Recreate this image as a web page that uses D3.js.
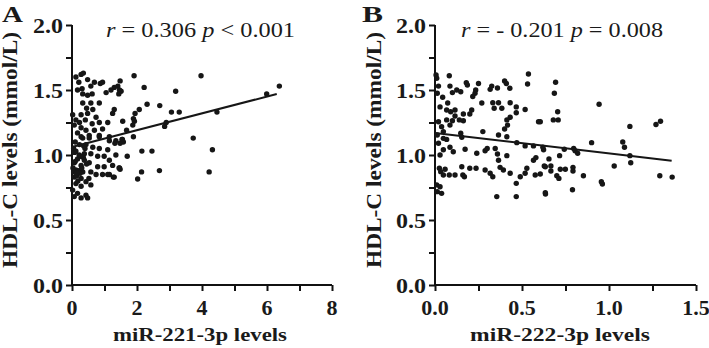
<!DOCTYPE html>
<html><head><meta charset="utf-8">
<script src="https://cdn.jsdelivr.net/npm/d3@7"></script>
<style>
html,body{margin:0;padding:0;background:#fff;}
svg{display:block;}
text{font-family:"Liberation Serif","Times New Roman",Tinos,serif;}
</style></head>
<body><svg id="c" width="709" height="348"></svg>
<script>
// ---------- data ----------
const aX = [1.91,2.22,3.19,3.97,5.99,6.38,4.46,3.73,4.32,4.22,2.85,2.90,2.70,3.06,3.30,2.31,2.07,1.94,1.89,1.92,1.87,1.56,1.68,1.89,1.58,1.48,2.15,2.46,1.70,1.48,2.14,2.69,2.02,1.51,1.48,
  0.12,0.28,0.35,0.21,0.48,0.69,0.87,0.94,0.31,0.17,0.33,0.58,0.62,0.48,1.05,1.20,1.30,1.41,1.46,1.44,0.33,0.58,0.84,0.45,0.64,1.30,1.25,0.02,0.28,0.48,0.74,0.12,0.23,0.41,0.62,0.84,1.10,0.07,0.28,0.43,0.69,0.94,0.17,0.53,0.84,1.15,0.33,
  0.28,0.53,0.84,1.15,1.35,1.54,0.23,0.43,0.64,0.84,1.10,0.12,0.38,0.58,0.79,0.99,1.35,0.17,0.38,0.07,0.28,0.53,1.15,1.25,0.79,0.99,1.46,0.12,0.33,0.58,0.74,0.94,1.15,1.30,0.07,0.28,0.43,0.12,0.58,0.28,0.02,0.17,0.43,0.07,0.48,0.28,
  0.05,0.10,0.20,0.15,0.30,0.35,0.22,0.40,0.05,0.10,0.18,0.25,1.32,1.55,1.45,1.27,1.10,0.03,0.08,0.14,0.26,0.36,0.45,0.52];
const aY = [1.61,1.52,1.49,1.61,1.47,1.53,1.33,1.13,1.04,0.87,1.22,1.25,1.38,1.33,1.33,1.39,1.35,1.32,1.28,1.26,1.23,1.26,1.19,1.14,1.10,1.09,1.03,1.03,0.99,0.89,0.87,0.88,0.815,1.49,1.57,
  1.60,1.62,1.63,1.56,1.58,1.56,1.55,1.56,1.51,1.50,1.47,1.53,1.47,1.46,1.48,1.50,1.52,1.53,1.50,1.47,1.40,1.40,1.40,1.36,1.35,1.35,1.32,1.31,1.31,1.32,1.29,1.27,1.25,1.27,1.24,1.25,1.25,1.23,1.21,1.19,1.19,1.20,1.17,1.15,1.15,1.14,1.13,
  1.14,1.13,1.14,1.11,1.11,1.12,1.08,1.08,1.06,1.05,1.04,1.03,1.01,1.01,0.99,0.99,1.00,0.97,0.96,0.94,0.92,0.94,0.96,0.92,0.91,0.91,0.90,0.885,0.87,0.87,0.85,0.85,0.85,0.83,0.83,0.82,0.795,0.78,0.77,0.76,0.73,0.705,0.69,0.68,0.67,0.67,
  1.05,0.95,0.88,0.84,0.90,0.98,1.00,1.05,0.87,1.10,0.80,0.86,1.09,1.12,0.90,0.83,0.85,0.90,1.02,0.86,0.99,1.07,0.93,0.82];
const bX = [0.693,0.686,0.705,0.680,0.708,0.605,0.943,1.120,1.270,1.296,0.900,1.079,1.089,1.120,1.125,1.030,0.624,0.655,0.716,0.743,0.797,0.805,0.820,0.628,0.666,0.666,0.720,0.749,0.793,0.793,0.700,0.712,0.853,0.956,0.962,1.292,1.363,0.635,0.790,0.605,
  0.006,0.010,0.082,0.020,0.086,0.100,0.125,0.148,0.180,0.186,0.234,0.250,0.230,0.317,0.326,0.359,0.400,0.410,0.430,0.537,0.532,0.013,0.044,0.073,0.029,0.067,0.090,0.115,0.115,0.163,0.211,0.200,0.269,0.332,0.365,0.340,0.432,0.467,0.518,0.595,0.467,0.432,0.413,0.417,0.400,
  0.067,0.100,0.140,0.163,0.020,0.038,0.086,0.048,0.013,0.048,0.148,0.154,0.275,0.067,0.020,0.086,0.048,0.029,0.105,0.173,0.240,0.288,0.300,0.346,0.359,0.365,0.413,0.470,0.413,0.518,0.566,0.580,0.566,0.620,0.634,
  0.025,0.033,0.058,0.048,0.082,0.115,0.154,0.160,0.169,0.200,0.236,0.288,0.317,0.332,0.365,0.374,0.393,0.432,0.528,0.518,0.490,0.467,0.576,0.010,0.029,0.013,0.038,0.355,0.467,0.634,0.217,0.384];
const bY = [1.56,1.475,1.333,1.27,1.27,1.256,1.39,1.22,1.235,1.26,1.095,1.10,1.06,0.995,0.94,0.915,1.04,0.97,0.995,1.044,1.05,1.033,1.013,0.915,0.915,0.877,0.89,0.89,0.905,0.877,0.84,0.82,0.84,0.795,0.777,0.84,0.83,0.70,0.733,0.854,
  1.615,1.59,1.61,1.53,1.53,1.48,1.50,1.487,1.556,1.538,1.50,1.55,1.475,1.505,1.53,1.515,1.57,1.55,1.513,1.623,1.546,1.475,1.444,1.40,1.37,1.346,1.333,1.346,1.30,1.315,1.346,1.315,1.40,1.402,1.402,1.36,1.402,1.37,1.35,1.256,1.325,1.29,1.27,1.23,1.20,
  1.27,1.264,1.27,1.264,1.256,1.218,1.23,1.18,1.154,1.128,1.167,1.136,1.18,1.12,1.09,1.06,1.04,1.00,1.025,1.044,1.013,1.033,1.05,1.05,1.008,1.154,1.14,1.095,0.995,1.07,1.07,0.98,0.96,1.06,0.91,
  0.898,0.872,0.89,0.846,0.846,0.846,0.91,0.846,0.833,0.898,0.898,0.885,0.86,0.833,0.96,0.905,0.885,0.86,0.898,0.86,0.833,0.782,0.846,0.77,0.756,0.718,0.705,0.68,0.68,0.71,1.45,1.36];
const aFitX = [0, 6.3], aFitY = [1.062, 1.469];
const bFitX = [0, 1.36], bFitY = [1.17, 0.955];
const aXTicks = [0,2,4,6,8], bXTicks = [0.0,0.5,1.0,1.5];
const yTicks = [0.0,0.5,1.0,1.5,2.0];

// ---------- drawing ----------
const svg = d3.select("#c");

function panel(o){
  const g = svg.append("g");
  const x = d3.scaleLinear().domain(o.xDom).range(o.xRange);
  const y = d3.scaleLinear().domain([0,2]).range([285,25]);
  const ax = g.append("g").attr("transform","translate(0,285)")
    .call(d3.axisBottom(x).tickValues(o.xMinor).tickSize(6).tickFormat(""));
  const ay = g.append("g").attr("transform",`translate(${o.xRange[0]},0)`)
    .call(d3.axisLeft(y).tickValues(d3.range(0,2.001,0.25)).tickSize(6).tickFormat(""));
  [ax,ay].forEach(a=>{
    a.select(".domain").attr("stroke","#111").attr("stroke-width",2);
    a.selectAll(".tick line").attr("stroke","#111").attr("stroke-width",2);
  });
  ax.select(".domain").attr("d",`M${o.xRange[0]},0H${o.xRange[1]}`);
  ay.select(".domain").attr("d",`M0,285V25`);
  g.selectAll(".xl").data(o.xTicks).join("text")
    .attr("x",d=>x(d)).attr("y",315).attr("text-anchor","middle")
    .attr("font-weight","bold").attr("font-size",22).attr("fill","#1a1a1a")
    .text(o.xFmt);
  g.selectAll(".yl").data(yTicks).join("text")
    .attr("x",o.xRange[0]-9).attr("y",d=>y(d)+7.5).attr("text-anchor","end")
    .attr("font-weight","bold").attr("font-size",22).attr("fill","#1a1a1a")
    .attr("textLength",30).attr("lengthAdjust","spacingAndGlyphs")
    .text(d=>d3.format(".1f")(d));
  g.append("text").attr("x",o.xTitleX).attr("y",341).attr("text-anchor","middle")
    .attr("font-weight","bold").attr("font-size",19).attr("fill","#1a1a1a")
    .attr("textLength",o.xTitleLen).attr("lengthAdjust","spacingAndGlyphs")
    .text(o.xTitle);
  g.append("text").attr("transform",`translate(${o.yTitleX},150) rotate(-90)`).attr("text-anchor","middle")
    .attr("font-weight","bold").attr("font-size",20).attr("fill","#1a1a1a")
    .attr("textLength",236).attr("lengthAdjust","spacingAndGlyphs")
    .text("HDL-C levels (mmol/L)");
  g.append("text").attr("x",o.labX).attr("y",22)
    .attr("font-weight","bold").attr("font-size",23).attr("fill","#1a1a1a")
    .attr("textLength",21).attr("lengthAdjust","spacingAndGlyphs")
    .text(o.label);
  const ann = g.append("text").attr("x",o.annX).attr("y",37)
    .attr("font-size",22).attr("fill","#1a1a1a")
    .attr("textLength",o.annLen).attr("lengthAdjust","spacingAndGlyphs");
  ann.append("tspan").attr("font-style","italic").text("r");
  ann.append("tspan").text(o.ann1);
  ann.append("tspan").attr("font-style","italic").text("p");
  ann.append("tspan").text(o.ann2);
  g.selectAll("circle").data(o.px.map((v,i)=>[v,o.py[i]])).join("circle")
    .attr("cx",d=>x(d[0])).attr("cy",d=>y(d[1])).attr("r",2.7).attr("fill","#161616");
  g.append("line")
    .attr("x1",x(o.fx[0])).attr("y1",y(o.fy[0])).attr("x2",x(o.fx[1])).attr("y2",y(o.fy[1]))
    .attr("stroke","#161616").attr("stroke-width",2);
}

panel({xDom:[0,8], xRange:[72,332], xMinor:d3.range(0,8.001,1), xTicks:aXTicks, xFmt:d=>d,
  xTitle:"miR-221-3p levels", xTitleX:200, xTitleLen:174, yTitleX:17, label:"A", labX:2,
  annX:106, annLen:189, ann1:" = 0.306 ", ann2:" < 0.001", px:aX, py:aY, fx:aFitX, fy:aFitY});
panel({xDom:[0,1.5], xRange:[435,696], xMinor:d3.range(0,1.501,0.25), xTicks:bXTicks, xFmt:d=>d3.format(".1f")(d),
  xTitle:"miR-222-3p levels", xTitleX:560, xTitleLen:180, yTitleX:381, label:"B", labX:362,
  annX:461, annLen:202, ann1:" = - 0.201 ", ann2:" = 0.008", px:bX, py:bY, fx:bFitX, fy:bFitY});
</script></body></html>
